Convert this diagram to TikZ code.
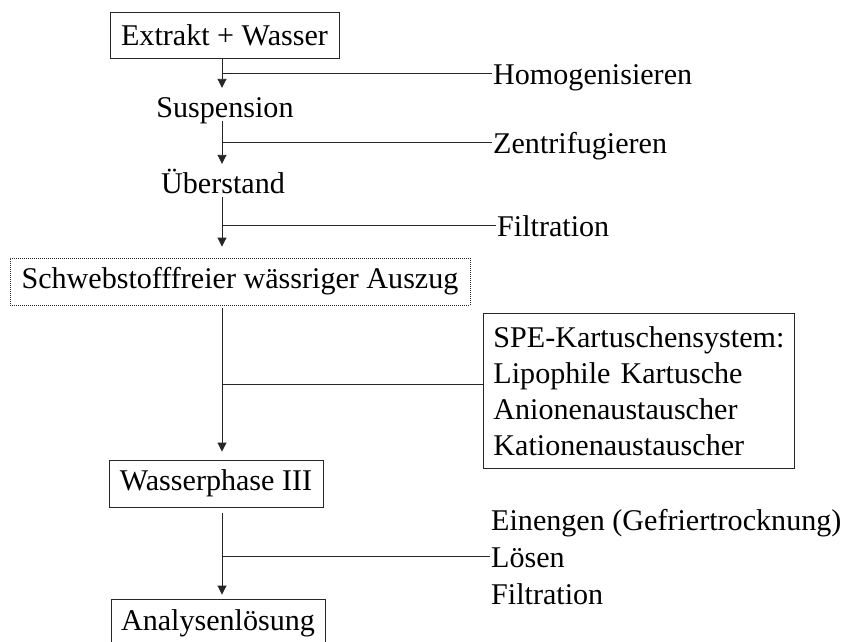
\documentclass[tikz,border=0pt]{standalone}
\usepackage{fontspec}
\setmainfont{Liberation Serif}
\usetikzlibrary{arrows.meta}
\begin{document}
\begin{tikzpicture}[x=1pt,y=-1pt,
  font=\fontsize{30.1}{36}\selectfont,
  box/.style={draw=black!85, line width=0.9pt, inner sep=0pt, minimum height=46pt},
  dbox/.style={box, dash pattern=on 1pt off 1pt},
  txt/.style={inner sep=0pt, text height=29pt, text depth=4pt},
  lbl/.style={inner sep=1pt, anchor=west, text height=22pt, text depth=0pt},
  ln/.style={line width=0.9pt, draw=black!85},
  arr/.style={ln, -{Triangle[width=9pt,length=9pt]}}]
\useasboundingbox (0,0) rectangle (842,641);
\coordinate (col) at (222,0);
% main column
\node[box, minimum width=229pt] (b1) at (224.5,35) {Extrakt + Wasser};
\node[txt, anchor=base] (s) at (225,117) {Suspension};
\node[txt, anchor=base] (u) at (223,193) {Überstand};
\node[dbox, minimum width=460pt, minimum height=47pt] (b2) at (240,281.5) {Schwebstofffreier wässriger Auszug};
\node[box, minimum width=214pt, minimum height=47pt] (b3) at (216,483.5) {Wasserphase III};
\node[box, minimum width=214pt, minimum height=48pt] (b4) at (218,623) {Analysenlösung};
% labels
\node[lbl] (h1) at (492,73) {Homogenisieren};
\node[lbl] (h2) at (492,142) {Zentrifugieren};
\node[lbl] (h3) at (496,225) {Filtration};
\node[box, align=left, inner xsep=10pt, inner ysep=0pt, text width=291pt, minimum height=155pt, anchor=north west] (spe) at (483,313)
  {\mbox{SPE-Kartuschensystem:}\\Lipophile Kartusche\\Anionenaustauscher\\Kationenaustauscher};
\node[lbl] (e1) at (490,519) {Einengen (Gefriertrocknung)};
\node[lbl] (e2) at (490,556) {Lösen};
\node[lbl] (e3) at (490,593) {Filtration};
% connectors
\draw[arr] (b1.south -| col) -- (s.north -| col);
\draw[arr] (s.south -| col) -- (u.north -| col);
\draw[arr, shorten >=11pt] (u.south -| col) -- (b2.north -| col);
\draw[arr, shorten <=3pt, shorten >=8pt] (b2.south -| col) -- (b3.north -| col);
\draw[arr, shorten <=6pt, shorten >=4pt] (b3.south -| col) -- (b4.north -| col);
\draw[ln] (h1.west -| col) -- (h1.west);
\draw[ln] (h2.west -| col) -- (h2.west);
\draw[ln] (h3.west -| col) -- (h3.west);
\coordinate (m4) at (0,384);
\draw[ln] (m4 -| col) -- (m4 -| spe.west);
\draw[ln] (e2.west -| col) -- (e2.west);
\end{tikzpicture}
\end{document}
